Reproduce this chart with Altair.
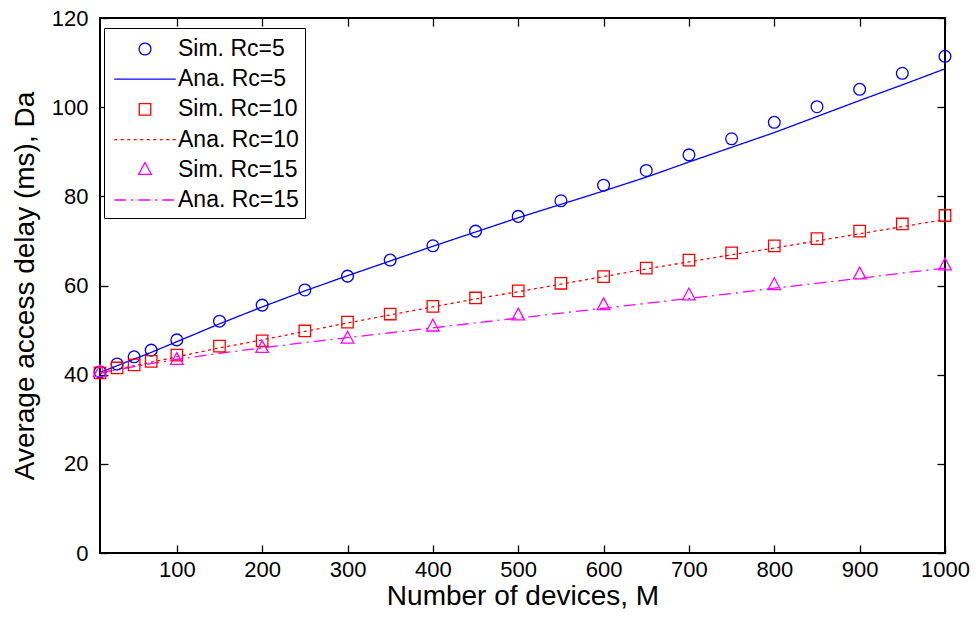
import altair as alt
import pandas as pd

# ---------------- data ----------------
series = ["Sim. Rc=5", "Ana. Rc=5", "Sim. Rc=10", "Ana. Rc=10", "Sim. Rc=15", "Ana. Rc=15"]
colors = ["#0000FF", "#0000FF", "#FF0000", "#FF0000", "#FF00FF", "#FF00FF"]

m_dense = [10, 30, 50, 70, 100, 150, 200, 250, 300, 350, 400, 450, 500,
           550, 600, 650, 700, 750, 800, 850, 900, 950, 1000]
m_sparse = [10, 100, 200, 300, 400, 500, 600, 700, 800, 900, 1000]

sim_rc5 = [40.6, 42.4, 44.0, 45.5, 47.8, 52.0, 55.6, 59.0, 62.1, 65.7, 68.9, 72.2,
           75.5, 79.0, 82.5, 85.8, 89.3, 92.9, 96.6, 100.1, 104.0, 107.6, 111.4]
ana_rc5 = [40.5, 42.0, 43.5, 45.0, 47.4, 51.4, 55.2, 58.8, 62.2, 65.5, 68.8, 72.0,
           75.2, 78.2, 81.2, 84.3, 87.7, 91.0, 94.3, 97.9, 101.5, 105.0, 108.6]
sim_rc10 = [40.4, 41.5, 42.2, 43.0, 44.4, 46.4, 47.6, 49.8, 51.8, 53.6, 55.3, 57.2,
            58.8, 60.5, 62.0, 63.9, 65.7, 67.3, 68.9, 70.5, 72.2, 73.8, 75.7]
ana_rc10 = [40.3, 41.2, 42.0, 42.8, 44.0, 46.0, 47.8, 49.7, 51.6, 53.4, 55.2, 57.0,
            58.6, 60.3, 62.0, 63.7, 65.3, 66.9, 68.4, 70.0, 71.6, 73.2, 74.8]
sim_rc15 = [40.6, 43.3, 46.0, 48.1, 50.8, 53.3, 55.6, 57.8, 60.1, 62.5, 64.5]
ana_rc15 = [40.4, 41.1, 41.8, 42.5, 43.4, 44.8, 46.0, 47.2, 48.3, 49.4, 50.5, 51.6,
            52.7, 53.8, 54.9, 56.0, 57.1, 58.2, 59.4, 60.5, 61.6, 62.8, 63.9]

x_ticks = [100, 200, 300, 400, 500, 600, 700, 800, 900, 1000]
y_ticks = [0, 20, 40, 60, 80, 100, 120]

# ---------------- tables ----------------
sim_df = pd.concat([
    pd.DataFrame({"M": m_dense, "delay": sim_rc5, "series": series[0]}),
    pd.DataFrame({"M": m_dense, "delay": sim_rc10, "series": series[2]}),
    pd.DataFrame({"M": m_sparse, "delay": sim_rc15, "series": series[4]}),
])
ana_df = pd.concat([
    pd.DataFrame({"M": m_dense, "delay": ana_rc5, "series": series[1]}),
    pd.DataFrame({"M": m_dense, "delay": ana_rc10, "series": series[3]}),
    pd.DataFrame({"M": m_dense, "delay": ana_rc15, "series": series[5]}),
])

W, H = 845, 535
FONT = "Liberation Sans"

# marker / legend symbol shapes (custom paths, scaled by sqrt(size)/2)
circle = "M0.42,0A0.42,0.42,0,1,1,-0.42,0A0.42,0.42,0,1,1,0.42,0Z"
square = "M-0.41,-0.41H0.41V0.41H-0.41Z"
tri = "M0,-0.52L0.45,0.32H-0.45Z"
hline = "M-2.2,0H2.2"

color_scale = alt.Scale(domain=series, range=colors)
shape_scale = alt.Scale(domain=series, range=[circle, hline, square, hline, tri, hline])
dash_scale = alt.Scale(domain=series, range=[[1, 0], [1, 0], [1, 0], [3, 3.5], [1, 0], [12, 5, 2, 5]])

legend = alt.Legend(title=None, orient="none", legendX=4, legendY=10)

x_scale = alt.Scale(domain=[10, 1000], nice=False, zero=False)
y_scale = alt.Scale(domain=[0, 120], nice=False)

# Layer 1: analytic lines, carries labelled axes
lines = alt.Chart(ana_df).mark_line(strokeWidth=1.3).encode(
    x=alt.X("M:Q", scale=x_scale,
            axis=alt.Axis(values=x_ticks, format="d", ticks=False, domain=False, grid=False,
                          labelFlush=False, labelOverlap=False,
                          labelFontSize=22, labelPadding=6, labelColor="black",
                          title="Number of devices, M", titleFontSize=28,
                          titleFontWeight="normal", titleColor="black", titlePadding=2)),
    y=alt.Y("delay:Q", scale=y_scale,
            axis=alt.Axis(values=y_ticks, format="d", ticks=False, domain=False, grid=False,
                          labelFlush=False, labelOverlap=False,
                          labelFontSize=22, labelPadding=12, labelColor="black",
                          title="Average access delay (ms), Da", titleFontSize=28,
                          titleFontWeight="normal", titleColor="black", titlePadding=12)),
    color=alt.Color("series:N", scale=color_scale, legend=legend),
    strokeDash=alt.StrokeDash("series:N", scale=dash_scale, legend=legend),
    detail="series:N",
)

tick_x = dict(labels=False, ticks=True, tickSize=8, tickWidth=1.3, tickColor="black",
              domain=False, grid=False, title=None)

# Layer 2: simulation markers, carries inward ticks on bottom and left edges
points = alt.Chart(sim_df).mark_point(filled=False, size=784, strokeWidth=1.3, opacity=1).encode(
    x=alt.X("M:Q", scale=x_scale, axis=alt.Axis(orient="top", offset=-H, values=x_ticks, **tick_x)),
    y=alt.Y("delay:Q", scale=y_scale, axis=alt.Axis(orient="right", offset=-W, values=y_ticks, **tick_x)),
    color=alt.Color("series:N", scale=color_scale, legend=legend),
    shape=alt.Shape("series:N", scale=shape_scale, legend=legend),
)

# Layer 3: invisible, carries inward ticks on top and right edges
ghost = alt.Chart(ana_df).mark_point(opacity=0).encode(
    x=alt.X("M:Q", scale=x_scale, axis=alt.Axis(orient="bottom", offset=-H, values=x_ticks, **tick_x)),
    y=alt.Y("delay:Q", scale=y_scale, axis=alt.Axis(orient="left", offset=-W, values=y_ticks, **tick_x)),
)

chart = alt.layer(lines, points, ghost).resolve_axis(
    x="independent", y="independent"
).properties(
    width=W, height=H,
    autosize=alt.AutoSizeParams(type="none"),
    padding={"left": 100, "top": 18, "right": 31, "bottom": 69},
    background="white",
).configure(font=FONT).configure_view(
    stroke="black", strokeWidth=2
).configure_axis(
    labelFont=FONT, titleFont=FONT
).configure_legend(
    labelFont=FONT, labelFontSize=23, labelColor="black",
    symbolSize=784, symbolStrokeWidth=1.3, symbolOffset=20, labelOffset=18,
    padding=6, rowPadding=3.2, strokeColor="black", fillColor="white",
    symbolFillColor="transparent",
)

chart.save("out.html", embed_options={"renderer": "svg", "actions": False})
